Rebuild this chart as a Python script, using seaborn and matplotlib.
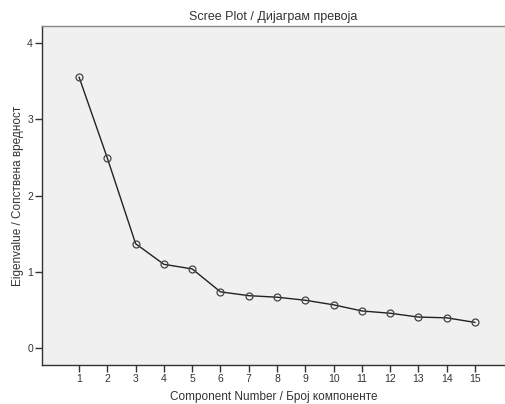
import matplotlib
matplotlib.use("Agg")
import matplotlib.pyplot as plt
import seaborn as sns
import pandas as pd

components = list(range(1, 16))
eigenvalues = [3.55, 2.49, 1.37, 1.10, 1.04, 0.74, 0.69, 0.67, 0.63, 0.57, 0.49, 0.46, 0.41, 0.40, 0.34]
y_ticks = [0, 1, 2, 3, 4]

title = "Scree Plot / Дијаграм превоја"
xlabel = "Component Number / Број компоненте"
ylabel = "Eigenvalue / Сопствена вредност"

sns.set_style("white")
plt.rcParams['font.family'] = ['Liberation Sans', 'DejaVu Sans']

df = pd.DataFrame({"comp": components, "eig": eigenvalues})

fig = plt.figure(figsize=(5.06, 4.04), dpi=100)
ax = fig.add_axes([0.083, 0.096, 0.915, 0.840])
ax.set_facecolor("#f0f0f0")

sns.lineplot(data=df, x="comp", y="eig", ax=ax, color="#222222", linewidth=1.0,
             marker="o", markersize=5, markerfacecolor="none",
             markeredgecolor="#444444", markeredgewidth=0.9)

ax.set_xlim(-0.31, 16.06)
ax.set_ylim(-0.22, 4.22)
ax.set_xticks(components)
ax.set_xticklabels([str(c) for c in components])
ax.set_yticks(y_ticks)
ax.set_yticklabels([str(t) for t in y_ticks])

for s in ax.spines.values():
    s.set_color("#333333")
    s.set_linewidth(1.0)
ax.spines['top'].set_color("#888888")
ax.spines['right'].set_visible(False)

ax.tick_params(axis='both', direction='out', length=5, width=1, color="#333333",
               labelsize=7.5, labelcolor="#333333", pad=1.5, left=True, bottom=True)

ax.set_title(title, fontsize=9, color="#333333", pad=4)
ax.set_xlabel(xlabel, fontsize=8.5, color="#333333", labelpad=5)
ax.set_ylabel(ylabel, fontsize=8.5, color="#333333", labelpad=2)

fig.savefig("out.png", dpi=100)
